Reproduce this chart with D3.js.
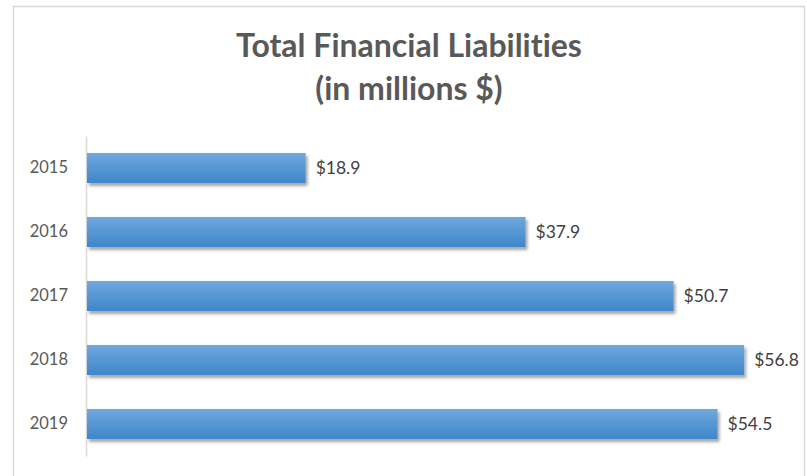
<!DOCTYPE html>
<html>
<head>
<meta charset="utf-8">
<script src="https://cdn.jsdelivr.net/npm/d3@7"></script>
<style>
  body { margin: 0; background: #fff; }
  text { font-family: Lato, "Open Sans", sans-serif; font-variant-ligatures: none; }
</style>
</head>
<body>
<div class="chart"></div>
<script>
// data
var years = ["2015", "2016", "2017", "2018", "2019"];
var liabilities = [18.9, 37.9, 50.7, 56.8, 54.5];
var titleLines = ["Total Financial Liabilities", "(in millions $)"];

var svgWidth = 807;
var svgHeight = 476;

var margin = { top: 136, left: 86 };
var plotHeight = 320;

var svg = d3.select(".chart")
  .append("svg")
  .attr("width", svgWidth)
  .attr("height", svgHeight);

// gradient + shadow for the bars
var defs = svg.append("defs");
var grad = defs.append("linearGradient")
  .attr("id", "barGrad")
  .attr("x1", 0).attr("y1", 0).attr("x2", 0).attr("y2", 1);
grad.append("stop").attr("offset", "0%").attr("stop-color", "#6fa8dc");
grad.append("stop").attr("offset", "100%").attr("stop-color", "#3f86cb");

var shadow = defs.append("filter")
  .attr("id", "barShadow")
  .attr("x", "-5%").attr("y", "-20%")
  .attr("width", "115%").attr("height", "160%");
shadow.append("feDropShadow")
  .attr("dx", 2).attr("dy", 3)
  .attr("stdDeviation", 1.5)
  .attr("flood-color", "#000")
  .attr("flood-opacity", 0.35);

// chart border
svg.append("path")
  .attr("d", "M13.5," + svgHeight + " V6.5 H804.5 V" + svgHeight)
  .attr("fill", "none")
  .attr("stroke", "#d9d9d9")
  .attr("stroke-width", 1.5);

// title
svg.append("g")
  .selectAll("text")
  .data(titleLines)
  .enter()
  .append("text")
  .attr("x", 409)
  .attr("y", (d, i) => 57 + i * 43)
  .attr("text-anchor", "middle")
  .attr("font-size", "32px")
  .attr("font-weight", "bold")
  .attr("fill", "#595959")
  .text(d => d);

// scales
var xScale = d3.scaleLinear()
  .domain([0, 60])
  .range([0, 60 * 11.57]);

var yScale = d3.scaleBand()
  .domain(years)
  .range([0, plotHeight])
  .paddingInner(0.53)
  .paddingOuter(0.265);

var chartGroup = svg.append("g")
  .attr("transform", `translate(${margin.left}, ${margin.top})`);

// category axis
var yAxis = d3.axisLeft(yScale).tickSize(0).tickPadding(18);
var yAxisGroup = chartGroup.append("g").call(yAxis);
yAxisGroup.select(".domain")
  .attr("stroke", "#d9d9d9")
  .attr("stroke-width", 1.5);
yAxisGroup.selectAll("text")
  .attr("font-size", "16.5px")
  .attr("fill", "#595959")
  .style("font-family", "Lato, 'Open Sans', sans-serif");

// bars
chartGroup.selectAll("rect.bar")
  .data(liabilities)
  .enter()
  .append("rect")
  .attr("class", "bar")
  .attr("x", 1)
  .attr("y", (d, i) => yScale(years[i]))
  .attr("width", d => xScale(d))
  .attr("height", yScale.bandwidth())
  .attr("fill", "url(#barGrad)")
  .attr("filter", "url(#barShadow)");

// value labels
chartGroup.selectAll("text.value")
  .data(liabilities)
  .enter()
  .append("text")
  .attr("class", "value")
  .attr("x", d => xScale(d) + 11)
  .attr("y", (d, i) => yScale(years[i]) + yScale.bandwidth() / 2)
  .attr("dy", "0.35em")
  .attr("font-size", "17.5px")
  .attr("fill", "#404040")
  .text(d => "$" + d.toFixed(1));
</script>
</body>
</html>
